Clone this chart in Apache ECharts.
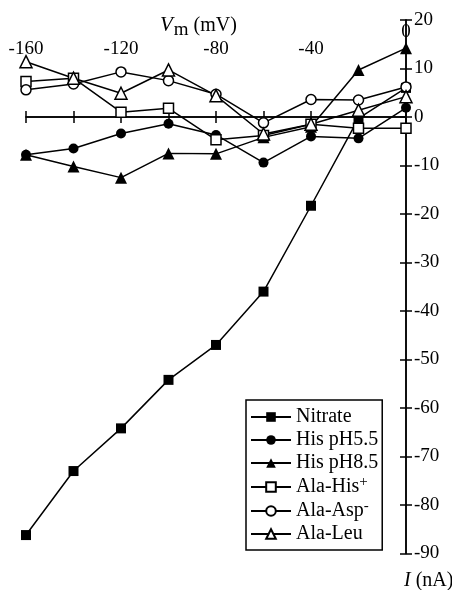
<!DOCTYPE html>
<html><head><meta charset="utf-8">
<script src="https://cdn.jsdelivr.net/npm/echarts@6/dist/echarts.min.js"></script>
<style>html,body{margin:0;padding:0;background:#fff}#c{width:452px;height:590px}</style>
</head><body><div id="c"></div>
<script>
const vm = [-160, -140, -120, -100, -80, -60, -40, -20, 0];
const nitrate = [-86.2, -73, -64.2, -54.2, -47, -36, -18.3, -0.3, 6];
const hisPH55 = [-7.8, -6.5, -3.4, -1.4, -3.7, -9.4, -4, -4.4, 1.9];
const hisPH85 = [-7.8, -10.2, -12.5, -7.5, -7.6, -4.2, -2, 9.7, 14.2];
const alaHis = [7.3, 8, 1, 1.8, -4.7, -3.8, -1.5, -2.3, -2.3];
const alaAsp = [5.6, 6.8, 9.3, 7.5, 4.7, -1.2, 3.6, 3.5, 6.2];
const alaLeu = [11.4, 8, 4.9, 9.7, 4.4, -3.5, -1.5, 1.4, 4.2];
const seriesNames = ['Nitrate', 'His pH5.5', 'His pH8.5', 'Ala-His+', 'Ala-Asp-', 'Ala-Leu'];
const xTickLabels = [-160, -120, -80, -40, 0];
const yTicks = [20, 10, 0, -10, -20, -30, -40, -50, -60, -70, -80, -90];

const FONT = 'Liberation Serif';
const chart = echarts.init(document.getElementById('c'), null, {renderer: 'canvas'});
const pair = arr => vm.map((x, i) => [x, arr[i]]);
const mk = (name, arr, symbol, filled, size) => ({
  name, type: 'line', data: pair(arr), symbol, symbolSize: size,
  xAxisIndex: 0, yAxisIndex: 0,
  lineStyle: {color: '#000', width: 1.5},
  itemStyle: {color: filled ? '#000' : '#fff', borderColor: '#000', borderWidth: filled ? 0 : 1.5},
  emphasis: {disabled: true}, animation: false
});
const xBase = {type: 'value', min: -160, max: 0, interval: 20, splitLine: {show: false}};
const yBase = {type: 'value', min: -90, max: 20, interval: 10, splitLine: {show: false}};
const txt = (extra) => Object.assign({fontFamily: FONT, color: '#000', fontWeight: 'normal'}, extra);
chart.setOption({
  animation: false,
  backgroundColor: '#fff',
  grid: {left: 26, right: 46, top: 20, bottom: 36.5, containLabel: false, outerBoundsMode: 'none'},
  title: [
    {text: '{v|V}{m|m}{r| (mV)}', left: 155, top: 6,
     textStyle: {fontWeight: 'normal', rich: {
       v: txt({fontSize: 21, fontStyle: 'italic'}),
       m: txt({fontSize: 19, padding: [10, 0, 0, 1]}),
       r: txt({fontSize: 20})}}},
    {text: '{i|I}{r| (nA)}', left: 399, top: 566,
     textStyle: {fontWeight: 'normal', rich: {
       i: txt({fontSize: 20, fontStyle: 'italic'}),
       r: txt({fontSize: 20})}}}
  ],
  legend: {
    orient: 'vertical', left: 246, top: 400, width: 137,
    data: seriesNames,
    backgroundColor: '#fff', borderColor: '#000', borderWidth: 1.5, borderRadius: 0,
    padding: [6, 4, 5, 4], itemGap: 1, itemWidth: 40, itemHeight: 12,
    selectedMode: false,
    formatter: n => n === 'Ala-His+' ? '{t|Ala-His}{s|+}' : n === 'Ala-Asp-' ? '{t|Ala-Asp}{s|-}' : '{t|' + n + '}',
    textStyle: txt({fontSize: 20, lineHeight: 22,
      rich: {t: txt({fontSize: 20, lineHeight: 22}),
             s: txt({fontSize: 15, padding: [0, 0, 9, 0]})}})
  },
  xAxis: [
    Object.assign({}, xBase, {position: 'top',
      axisLine: {onZero: true, lineStyle: {color: '#000', width: 1.5}},
      axisTick: {show: true, inside: false, length: 6, lineStyle: {color: '#000', width: 1.5}},
      axisLabel: {show: false}}),
    Object.assign({}, xBase, {position: 'top',
      axisLine: {onZero: true, lineStyle: {color: '#000', width: 1.5}},
      axisTick: {show: true, inside: true, length: 6, lineStyle: {color: '#000', width: 1.5}},
      axisLabel: {show: false}}),
    Object.assign({}, xBase, {position: 'top',
      axisLine: {show: false, onZero: false},
      axisTick: {show: false},
      axisLabel: {show: true, inside: true, margin: 3, fontFamily: FONT, fontSize: 19, color: '#000',
        formatter: v => !xTickLabels.includes(v) ? '' : (v === 0 ? '{z|0}' : '{a|' + v + '}'),
        rich: {z: txt({fontSize: 19}), a: txt({fontSize: 19, padding: [17, 0, 0, 0]})}}})
  ],
  yAxis: [
    Object.assign({}, yBase, {position: 'right',
      axisLine: {onZero: false, lineStyle: {color: '#000', width: 1.5}},
      axisTick: {show: true, inside: false, length: 6, lineStyle: {color: '#000', width: 1.5}},
      axisLabel: {show: true, margin: 8, fontFamily: FONT, fontSize: 19, color: '#000',
        formatter: v => yTicks.includes(v) ? String(v) : ''}}),
    Object.assign({}, yBase, {position: 'right',
      axisLine: {onZero: false, lineStyle: {color: '#000', width: 1.5}},
      axisTick: {show: true, inside: true, length: 6, lineStyle: {color: '#000', width: 1.5}},
      axisLabel: {show: false}})
  ],
  series: [
    mk('Nitrate', nitrate, 'rect', true, 10),
    mk('His pH5.5', hisPH55, 'circle', true, 10),
    mk('His pH8.5', hisPH85, 'triangle', true, 12),
    mk('Ala-His+', alaHis, 'rect', false, 10),
    mk('Ala-Asp-', alaAsp, 'circle', false, 10),
    mk('Ala-Leu', alaLeu, 'triangle', false, 12)
  ]
});
</script></body></html>
